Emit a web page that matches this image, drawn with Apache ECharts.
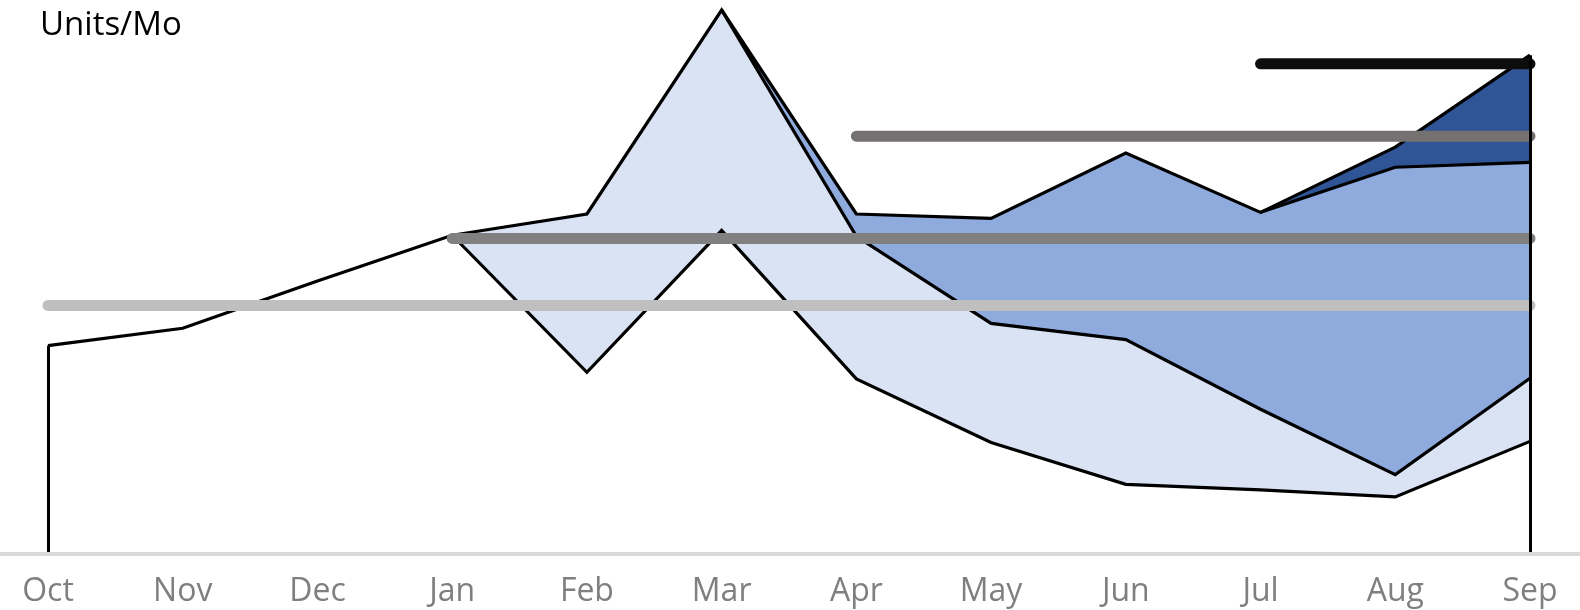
<!DOCTYPE html>
<html>
<head>
<meta charset="UTF-8">
<title>Units/Mo</title>
<script src="https://cdn.jsdelivr.net/npm/echarts@6/dist/echarts.min.js"></script>
<style>
  html, body { margin: 0; padding: 0; background: #fff; }
  #chart { width: 1580px; height: 610px; }
</style>
</head>
<body>
<div id="chart"></div>
<script>
// months along the bottom
var months = ['Oct', 'Nov', 'Dec', 'Jan', 'Feb', 'Mar', 'Apr', 'May', 'Jun', 'Jul', 'Aug', 'Sep'];

// top edge of each filled band (units/mo), null where the band is not drawn
var darkTop   = [null, null, null, null, null, null, null, null, null, 62.8, 74.8, 91.7];
var midTop    = [null, null, null, null, null, 100, 62.5, 61.7, 73.7, 62.8, 71.1, 72.0];
var lightTop  = [null, null, null, 58.6, 62.5, 100, 58.4, 42.4, 39.4, 26.6, 14.6, 32.3];
var baseLine  = [38.3, 41.5, 50.2, 58.6, 33.4, 59.5, 32.2, 20.5, 12.8, 11.8, 10.5, 20.7];

// flat target lines
var target1 = [45.7, 45.7, 45.7, 45.7, 45.7, 45.7, 45.7, 45.7, 45.7, 45.7, 45.7, 45.7];
var target2 = [null, null, null, 58.0, 58.0, 58.0, 58.0, 58.0, 58.0, 58.0, 58.0, 58.0];
var target3 = [null, null, null, null, null, null, 76.8, 76.8, 76.8, 76.8, 76.8, 76.8];
var target4 = [null, null, null, null, null, null, null, null, null, 90.1, 90.1, 90.1];

var font = '"Open Sans", "Noto Sans", sans-serif';
var chart = echarts.init(document.getElementById('chart'));

function band(name, data, fill) {
  return {
    name: name, type: 'line', data: data,
    symbol: 'none', clip: false,
    lineStyle: { color: '#000', width: 3.2, join: 'miter' },
    areaStyle: { color: fill, opacity: 1 }
  };
}
function target(name, data, color) {
  return {
    name: name, type: 'line', data: data,
    symbol: 'none', clip: false,
    lineStyle: { color: color, width: 11, cap: 'round' }
  };
}

var base = band('Base', baseLine, '#ffffff');
// the two upright edges of the filled shape
base.markLine = {
  silent: true, symbol: ['none', 'none'], animation: false,
  label: { show: false },
  lineStyle: { color: '#000', width: 3, type: 'solid' },
  data: [
    [{ coord: [months[0], 0] }, { coord: [months[0], baseLine[0]] }],
    [{ coord: [months[11], 0] }, { coord: [months[11], darkTop[11]] }]
  ]
};

var option = {
  animation: false,
  backgroundColor: '#fff',
  title: {
    text: 'Units/Mo', left: 35, top: 4,
    textStyle: { fontFamily: font, fontSize: 33, fontWeight: 'normal', color: '#000' }
  },
  grid: [
    { left: 48, right: 50, top: 10, bottom: 56 },
    { left: 0, right: 0, top: 10, bottom: 56 }
  ],
  xAxis: [
    {
      type: 'category', data: months, boundaryGap: false, z: 5,
      axisLine: { show: false }, axisTick: { show: false },
      axisLabel: { fontFamily: font, fontSize: 32, color: '#7f7f7f', margin: 22 }
    },
    {
      type: 'category', data: [''], gridIndex: 1, z: 10,
      axisLine: { lineStyle: { color: '#d9d9d9', width: 4 } },
      axisTick: { show: false }, axisLabel: { show: false }
    }
  ],
  yAxis: [
    { type: 'value', min: 0, max: 100, show: false },
    { type: 'value', min: 0, max: 100, show: false, gridIndex: 1 }
  ],
  series: [
    band('High', darkTop, '#2f5597'),
    band('Mid', midTop, '#8faadc'),
    band('Low', lightTop, '#dae3f3'),
    base,
    target('Target 1', target1, '#bfbfbf'),
    target('Target 2', target2, '#808080'),
    target('Target 3', target3, '#767171'),
    target('Target 4', target4, '#0d0d0d')
  ]
};

chart.setOption(option);
</script>
</body>
</html>
